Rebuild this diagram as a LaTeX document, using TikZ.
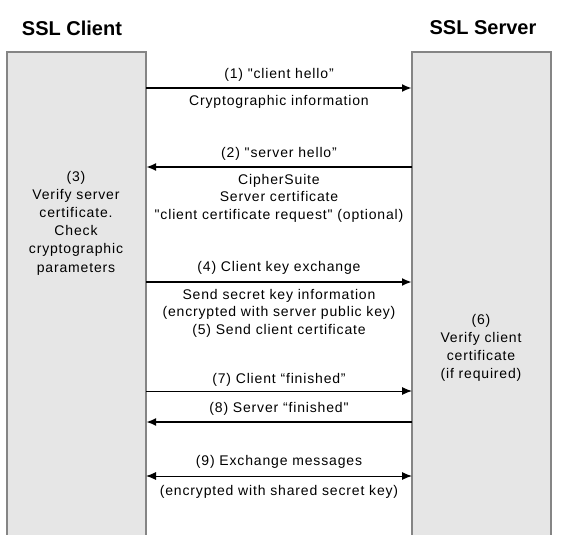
\documentclass[tikz,border=0pt]{standalone}
\usepackage{fontspec}
\setmainfont{Liberation Sans}[Ligatures=TeXOff]
\newfontfamily\trackedfont{Liberation Sans}[Ligatures=TeXOff,LetterSpace=6]
\usetikzlibrary{arrows.meta}
\definecolor{lanefill}{HTML}{E6E6E6}
\definecolor{laneborder}{HTML}{858585}
\begin{document}
\begin{tikzpicture}[x=1pt,y=-1pt,
  lane/.style={draw=laneborder, fill=lanefill, line width=1.5pt, minimum width=139pt, minimum height=500pt, anchor=north west, inner sep=0pt, outer sep=0pt},
  title/.style={font=\fontsize{20}{24}\selectfont\bfseries, inner sep=0pt},
  lbl/.style={font=\trackedfont\fontsize{14}{17.5}\selectfont, align=center, inner sep=0pt},
  side/.style={font=\trackedfont\fontsize{14}{18.2}\selectfont, align=center, inner sep=0pt},
  tip/.style={-{Latex[length=10pt,width=8pt]}},
  boldmsg/.style={line width=2pt, tip},
  thinmsg/.style={line width=1pt, tip},
]
\useasboundingbox (0,0) rectangle (565,535);
\clip (0,0) rectangle (565,535);
% lanes
\node[lane] (client) at (7,52) {};
\node[lane] (server) at (412,52) {};
\node[title] (tclient) at (72,28) {SSL Client};
\node[title] (tserver) at (483,28) {SSL Server};
% side texts
\node[side] (verify3) at (76,223) {(3)\\Verify server\\certificate.\\Check\\cryptographic\\parameters};
\node[side] (verify6) at (481,348) {(6)\\Verify client\\certificate\\(if required)};
% arrow end coordinates
\coordinate (c1) at (146,88);  \coordinate (s1) at (412,88);
\coordinate (c2) at (146,167); \coordinate (s2) at (412,167);
\coordinate (c4) at (146,282); \coordinate (s4) at (412,282);
\coordinate (c7) at (146,391); \coordinate (s7) at (412,391);
\coordinate (c8) at (146,422); \coordinate (s8) at (412,422);
\coordinate (c9) at (146,476); \coordinate (s9) at (412,476);
% messages
\draw[boldmsg] (c1) -- (s1);
\node[lbl] (l1) at (279,75) {(1) "client hello”};
\node[lbl] (d1) at (279,102) {Cryptographic information};

\draw[boldmsg] (s2) -- (c2);
\node[lbl] (l2) at (279,154) {(2) "server hello”};
\node[lbl] (d2) at (279,198) {CipherSuite\\Server certificate\\"client certificate request" (optional)};

\draw[boldmsg] (c4) -- (s4);
\node[lbl] (l4) at (279,268) {(4) Client key exchange};
\node[lbl] (d4) at (279,313) {Send secret key information\\(encrypted with server public key)\\(5) Send client certificate};

\draw[thinmsg] (c7) -- (s7);
\node[lbl] (l7) at (279,380) {(7) Client “finished”};

\draw[boldmsg] (s8) -- (c8);
\node[lbl] (l8) at (279,409) {(8) Server “finished"};

\draw[line width=1pt, {Latex[length=10pt,width=8pt]}-{Latex[length=10pt,width=8pt]}] (c9) -- (s9);
\node[lbl] (l9) at (279,462) {(9) Exchange messages};
\node[lbl] (d9) at (279,492) {(encrypted with shared secret key)};
\end{tikzpicture}
\end{document}
